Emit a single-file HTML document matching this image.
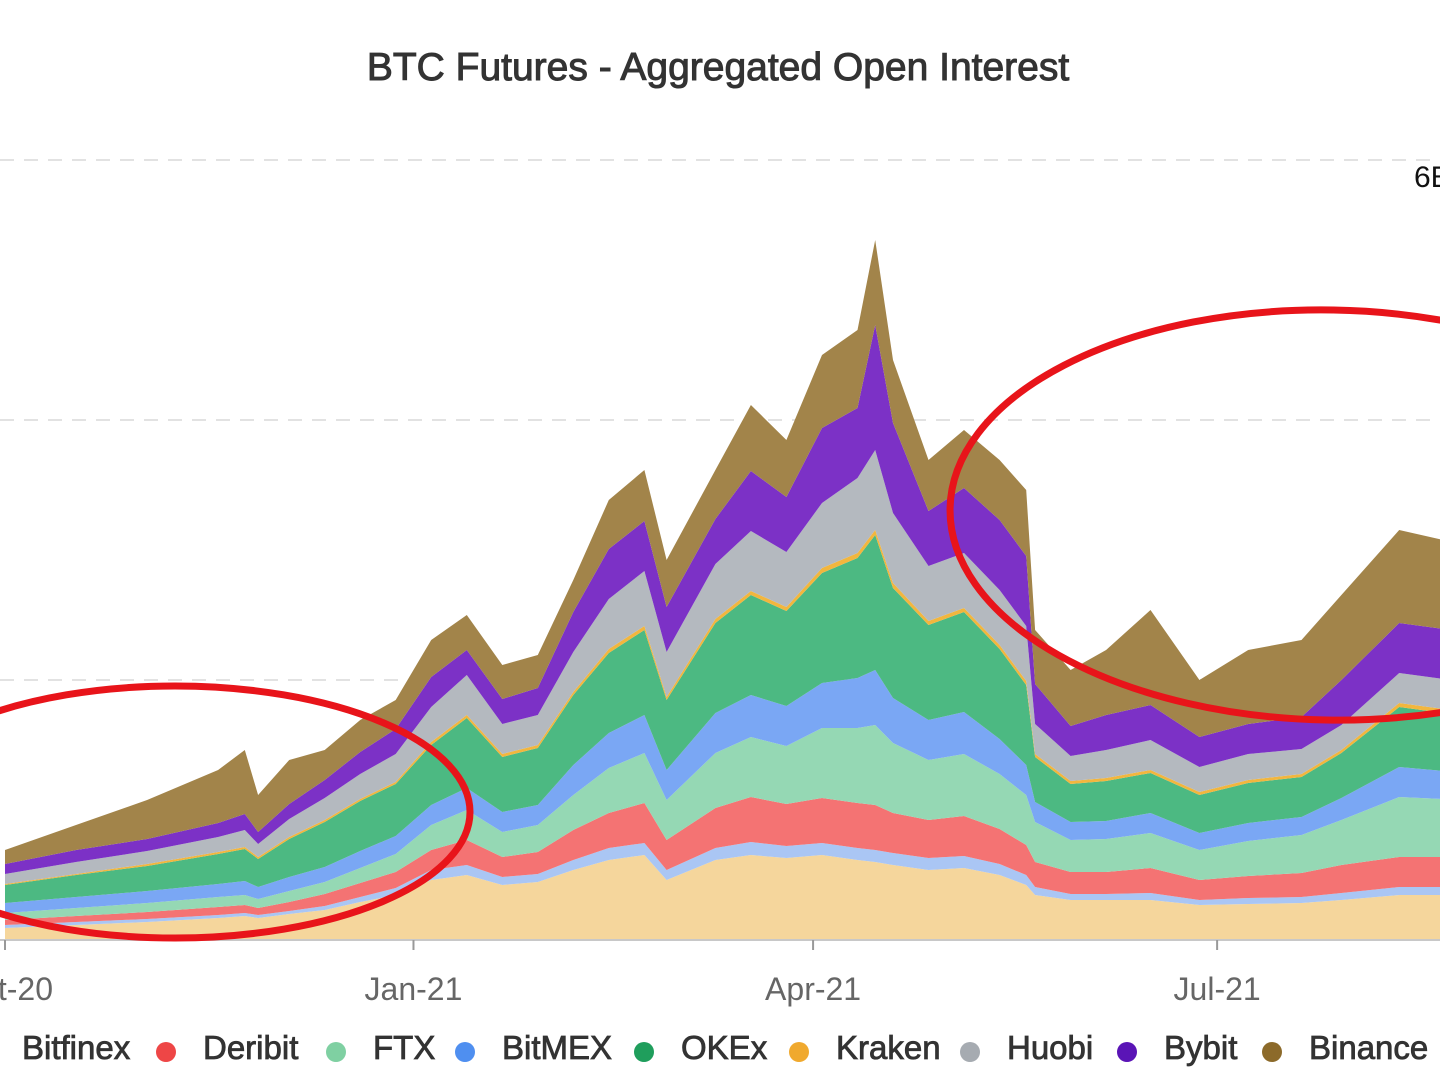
<!DOCTYPE html>
<html><head><meta charset="utf-8">
<style>
html,body{margin:0;padding:0;background:#fff;}
svg{display:block;}
text{font-family:"Liberation Sans",sans-serif;}
</style></head>
<body>
<svg id="chart" width="1440" height="1080" viewBox="0 0 1440 1080" xmlns="http://www.w3.org/2000/svg">
<rect width="1440" height="1080" fill="#fff"/>
<text x="718" y="80" text-anchor="middle" font-size="39" fill="#333" stroke="#333" stroke-width="1">BTC Futures - Aggregated Open Interest</text>
<g id="grid"></g>
<g id="areas"></g>
<g id="xaxis"></g>
<g id="legend"></g>
<ellipse cx="175" cy="812" rx="295" ry="126" fill="none" stroke="#e8141a" stroke-width="7"/>
<ellipse cx="1330" cy="515" rx="380" ry="205" fill="none" stroke="#e8141a" stroke-width="7" transform="rotate(1 1330 515)"/>
</svg>
<script>
// days since 2020-10-01
const days = [0,16,32,48,54,57,64,72,80,88,96,104,112,120,128,136,144,149,160,168,176,184,192,196,200,208,216,224,230,232,240,248,258,269,280,292,301,314,324];
const seriesNames = ["CME","Bitfinex","Deribit","FTX","BitMEX","OKEx","Kraken","Huobi","Bybit","Binance"];
const cme      = [12,15,18,22,24,22,26,30,38,45,60,65,55,58,70,80,85,60,80,85,82,85,80,78,75,70,72,65,55,45,40,40,40,35,36,37,40,45,45];
const bitfinex = [3,3,3,3,3,3,3,4,5,7,10,10,8,8,10,12,12,10,12,13,12,12,12,12,12,12,12,11,10,8,6,6,7,5,6,6,7,8,8];
const deribit  = [5,6,7,8,8,7,9,12,14,16,20,25,20,22,30,35,40,30,40,45,42,45,45,45,40,38,40,35,30,25,22,22,25,20,22,24,28,30,30];
const ftx      = [7,8,9,10,10,9,11,12,15,18,25,30,25,27,35,45,50,40,55,60,58,70,75,80,70,60,62,55,50,40,32,33,35,30,35,38,45,60,58];
const bitmex   = [10,11,12,13,14,12,14,15,17,18,20,22,20,20,30,35,38,30,40,42,40,45,50,55,45,40,42,35,30,20,18,18,20,17,18,18,22,30,28];
const okex     = [18,22,25,30,32,28,38,45,50,52,60,70,55,57,70,80,85,70,90,100,95,110,120,135,110,95,100,90,80,45,38,40,40,38,40,40,45,60,58];
const kraken   = [1,1,2,2,2,2,2,2,2,2,3,3,3,3,3,4,4,3,4,4,4,5,5,5,5,4,4,4,4,3,3,3,3,3,3,3,3,4,4];
const huobi    = [10,12,13,15,17,13,18,22,25,28,35,40,30,30,40,50,55,45,55,60,55,65,75,80,70,55,55,55,55,30,25,28,30,25,26,25,25,30,30];
const bybit    = [10,12,12,14,16,12,15,18,22,25,30,25,25,27,40,50,50,45,45,60,55,75,70,125,90,55,65,70,70,40,30,35,35,30,30,32,45,50,50];
const binance  = [14,25,39,53,64,37,44,30,32,29,37,35,34,33,32,49,51,47,49,66,57,73,78,85,63,51,58,60,66,54,56,65,95,57,74,77,85,93,89];
const seriesValues = [cme,bitfinex,deribit,ftx,bitmex,okex,kraken,huobi,bybit,binance];
const xTickDays = [0,92,182,273];
const xTickLabels = ["Oct-20","Jan-21","Apr-21","Jul-21"];
const yTicks = [0,260,520,780];
const yTickLabels = ["0","2","4","6"];
const legendLabels = ["Bitfinex","Deribit","FTX","BitMEX","OKEx","Kraken","Huobi","Bybit","Binance"];

const NS="http://www.w3.org/2000/svg";
const colors=["#f5d69c","#aac6f4","#f47373","#95d8b4","#7aa7f4","#4cb982","#f2b63e","#b4b9bf","#7c31c6","#a2844a"];
const legendDot={"Deribit":"#ee4646","FTX":"#7fd0a2","BitMEX":"#4f8ff0","OKEx":"#1f9e5c","Kraken":"#f0a92e","Huobi":"#a6abb1","Bybit":"#5a14b6","Binance":"#8c6a2a"};
const x = d => 5 + d*4.44;
const y = v => 940 - v*1.0;

const grid=document.getElementById('grid');
yTicks.forEach((t,i)=>{ if(t===0) return;
  const l=document.createElementNS(NS,'line');
  l.setAttribute('x1',0);l.setAttribute('x2',1440);l.setAttribute('y1',y(t));l.setAttribute('y2',y(t));
  l.setAttribute('stroke','#e2e2e2');l.setAttribute('stroke-width','2');l.setAttribute('stroke-dasharray','14 10');
  
  
  grid.appendChild(l);
});
const yl=document.createElementNS(NS,'text');
yl.setAttribute('x',1414);yl.setAttribute('y',y(yTicks[3])+27);yl.setAttribute('font-size','30');yl.setAttribute('fill','#111');
yl.textContent=yTickLabels[3]+'B';


grid.appendChild(yl);

const areas=document.getElementById('areas');
let lower=days.map(()=>0);
seriesValues.forEach((vals,si)=>{
  const upper=vals.map((v,i)=>lower[i]+v);
  let d='M'+days.map((dd,i)=>x(dd).toFixed(1)+','+y(upper[i]).toFixed(1)).join('L');
  for(let i=days.length-1;i>=0;i--) d+='L'+x(days[i]).toFixed(1)+','+y(lower[i]).toFixed(1);
  d+='Z';
  const p=document.createElementNS(NS,'path');
  p.setAttribute('d',d);p.setAttribute('fill',colors[si]);
  
  
  areas.appendChild(p);
  lower=upper;
});

const xa=document.getElementById('xaxis');
const al=document.createElementNS(NS,'line');
al.setAttribute('x1',0);al.setAttribute('x2',1440);al.setAttribute('y1',940);al.setAttribute('y2',940);
al.setAttribute('stroke','#c8c8c8');al.setAttribute('stroke-width','2');


xa.appendChild(al);
xTickDays.forEach((td,i)=>{
  const t=document.createElementNS(NS,'line');
  t.setAttribute('x1',x(td));t.setAttribute('x2',x(td));t.setAttribute('y1',940);t.setAttribute('y2',950);
  t.setAttribute('stroke','#999');t.setAttribute('stroke-width','2');
  
  
  xa.appendChild(t);
  const tx=document.createElementNS(NS,'text');
  tx.setAttribute('x',x(td));tx.setAttribute('y',1000);tx.setAttribute('text-anchor','middle');
  tx.setAttribute('font-size','32');tx.setAttribute('fill','#666');
  tx.textContent=xTickLabels[i];
  
  
  xa.appendChild(tx);
});

const lg=document.getElementById('legend');
const textX=[22,203,373,502,681,836,1007,1164,1309];
legendLabels.forEach((name,i)=>{
  if(legendDot[name]){
    const c=document.createElementNS(NS,'circle');
    c.setAttribute('cx',textX[i]-37);c.setAttribute('cy',1052);c.setAttribute('r',10);c.setAttribute('fill',legendDot[name]);
    
    
    lg.appendChild(c);
  }
  const t=document.createElementNS(NS,'text');
  t.setAttribute('x',textX[i]);t.setAttribute('y',1059);t.setAttribute('font-size','33');t.setAttribute('fill','#333');
  t.setAttribute('stroke','#333');t.setAttribute('stroke-width','0.8');
  t.textContent=name;
  
  
  lg.appendChild(t);
});
</script>
</body></html>
